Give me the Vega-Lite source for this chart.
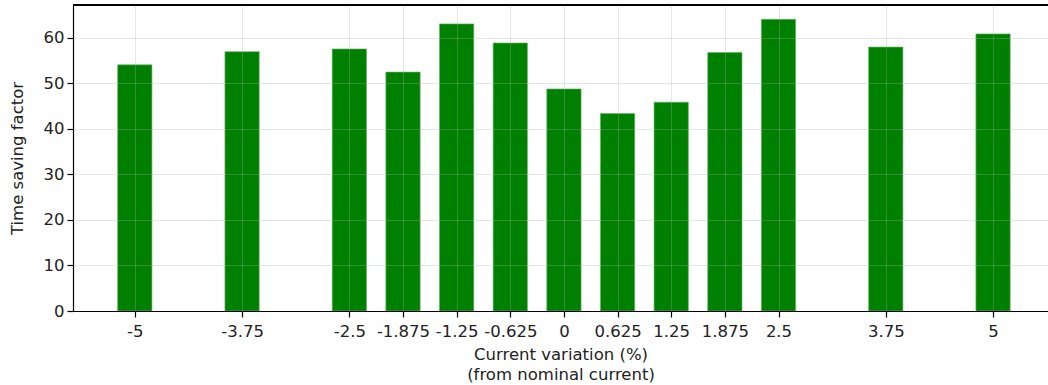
{
  "$schema": "https://vega.github.io/schema/vega-lite/v6.json",
  "autosize": {"type": "none"},
  "padding": {"left": 73, "top": 5, "right": 0, "bottom": 74},
  "width": 975,
  "height": 306,
  "background": "white",
  "config": {
    "view": {"stroke": null},
    "font": "DejaVu Sans",
    "axis": {
      "labelFont": "DejaVu Sans",
      "titleFont": "DejaVu Sans",
      "labelFontSize": 16.5,
      "titleFontSize": 16.5,
      "labelColor": "#222222",
      "titleColor": "#222222",
      "titleFontWeight": "normal",
      "domainColor": "#000000",
      "domainWidth": 1.2,
      "tickColor": "#000000",
      "tickSize": 6,
      "tickWidth": 1.2,
      "gridColor": "#b0b0b0",
      "gridOpacity": 0.3,
      "gridWidth": 1
    }
  },
  "data": {
    "values": [
      {"variation": -5, "factor": 54.1},
      {"variation": -3.75, "factor": 57.0},
      {"variation": -2.5, "factor": 57.6},
      {"variation": -1.875, "factor": 52.5},
      {"variation": -1.25, "factor": 63.1},
      {"variation": -0.625, "factor": 58.9},
      {"variation": 0, "factor": 48.8},
      {"variation": 0.625, "factor": 43.4},
      {"variation": 1.25, "factor": 45.9},
      {"variation": 1.875, "factor": 56.8},
      {"variation": 2.5, "factor": 64.1},
      {"variation": 3.75, "factor": 58.0},
      {"variation": 5, "factor": 60.9}
    ]
  },
  "layer": [
    {
      "mark": {"type": "bar", "color": "#008000", "width": 34.3, "stroke": "#66b366", "strokeWidth": 0.8, "strokeOpacity": 0.8},
      "encoding": {
        "x": {
          "field": "variation",
          "type": "quantitative",
          "scale": {"domain": [-5.72, 5.64], "nice": false, "zero": false, "padding": 0},
          "axis": {
            "values": [-5, -3.75, -2.5, -1.875, -1.25, -0.625, 0, 0.625, 1.25, 1.875, 2.5, 3.75, 5],
            "labelExpr": "'' + datum.value",
            "title": ["Current variation (%)", "(from nominal current)"],
            "titlePadding": 7,
            "titleLineHeight": 19.5,
            "labelPadding": 6,
            "zindex": 1,
            "grid": true
          }
        },
        "y": {
          "field": "factor",
          "type": "quantitative",
          "scale": {"domain": [0, 67.25], "nice": false, "padding": 0},
          "axis": {
            "values": [0, 10, 20, 30, 40, 50, 60],
            "title": "Time saving factor",
            "titlePadding": 18,
            "labelPadding": 3,
            "zindex": 1,
            "grid": true
          }
        }
      }
    },
    {
      "mark": {"type": "rule", "color": "#000000", "strokeWidth": 1.2},
      "encoding": {
        "y": {"datum": 67.25, "type": "quantitative"}
      }
    }
  ]
}
